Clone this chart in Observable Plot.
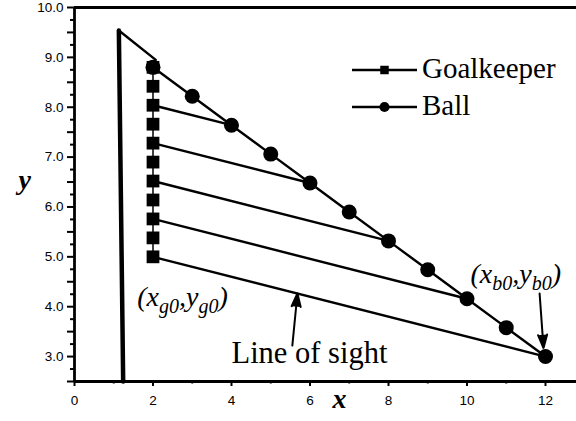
<!DOCTYPE html>
<html>
<head>
<meta charset="utf-8">
<script src="https://cdn.jsdelivr.net/npm/d3@7"></script>
<script src="https://cdn.jsdelivr.net/npm/@observablehq/plot@0.6"></script>
<style>
  body { margin: 0; background: #fff; }
  #chart { width: 576px; height: 421px; }
</style>
</head>
<body>
<div id="chart"></div>
<script>
// Goalkeeper positions along the goal line (x = 2)
const keeperX = [2, 2, 2, 2, 2, 2, 2, 2, 2, 2, 2];
const keeperY = [5.0, 5.38, 5.76, 6.14, 6.52, 6.9, 7.28, 7.66, 8.04, 8.42, 8.8];
// Ball positions along its path
const ballX = [2, 3, 4, 5, 6, 7, 8, 9, 10, 11, 12];
const ballY = [8.8, 8.22, 7.64, 7.06, 6.48, 5.9, 5.32, 4.74, 4.16, 3.58, 3.0];
// Lines of sight: keeper index paired with ball index
const sightKeeper = [10, 8, 6, 4, 2, 0];
const sightBall = [0, 2, 4, 6, 8, 10];
// Goal post outline
const postX = [1.24, 1.13, 2.07];
const postY = [2.5, 9.54, 8.95];
// Axis ticks
const yTickLabels = [3, 4, 5, 6, 7, 8, 9, 10];
const yHalfTicks = [2.5, 3, 3.5, 4, 4.5, 5, 5.5, 6, 6.5, 7, 7.5, 8, 8.5, 9, 9.5, 10];
const yQuarterTicks = [2.75, 3.25, 3.75, 4.25, 4.75, 5.25, 5.75, 6.25, 6.75, 7.25, 7.75, 8.25, 8.75, 9.25, 9.75];
const xTickLabels = [0, 2, 4, 6, 8, 10, 12];
const xMinorTicks = [1, 3, 5, 7, 9, 11];
// Annotations
const pointText = ["(x_g0,y_g0)", "(x_b0,y_b0)"];
const pointX = [1.6, 10.09];
const pointY = [4.02, 4.47];
const sightText = ["Line of sight"];
const sightX = [4.0];
const sightY = [2.88];
const arrowX1 = [5.55, 11.85];
const arrowY1 = [3.22, 4.265];
const arrowX2 = [5.68, 11.95];
const arrowY2 = [4.265, 3.17];
const legendLabels = ["Goalkeeper", "Ball"];

const keepers = keeperY.map((y, i) => ({x: keeperX[i], y}));
const balls = ballY.map((y, i) => ({x: ballX[i], y}));
const sights = sightKeeper.map((k, i) => ({
  x1: keeperX[k], y1: keeperY[k], x2: ballX[sightBall[i]], y2: ballY[sightBall[i]]
}));
const post = postX.map((x, i) => ({x, y: postY[i]}));
const pointNotes = pointText.map((text, i) => ({text, x: pointX[i], y: pointY[i]}));
const sightNotes = sightText.map((text, i) => ({text, x: sightX[i], y: sightY[i]}));
const arrows = arrowX1.map((x1, i) => ({x1, y1: arrowY1[i], x2: arrowX2[i], y2: arrowY2[i]}));

const serif = "'Liberation Serif', 'Times New Roman', serif";
const sans = "'Liberation Sans', Arial, sans-serif";

const chart = Plot.plot({
  width: 576,
  height: 421,
  marginLeft: 74,
  marginRight: 0,
  marginTop: 7,
  marginBottom: 40,
  style: {fontFamily: sans, fontSize: "13.5px", color: "#000", background: "#fff"},
  x: {domain: [0, 12.79]},
  y: {domain: [2.5, 10]},
  marks: [
    // axes
    Plot.axisY(yQuarterTicks, {tickSize: 4, strokeWidth: 2, tickFormat: () => "", label: null}),
    Plot.axisY(yHalfTicks, {tickSize: 7, tickPadding: 4, strokeWidth: 2,
      tickFormat: d => Number.isInteger(d) ? d.toFixed(1) : "", label: null}),
    Plot.axisX(xMinorTicks, {tickSize: 2.5, strokeWidth: 2, tickFormat: () => "", label: null}),
    Plot.axisX(xTickLabels, {tickSize: 5, tickPadding: 9, strokeWidth: 2, label: null}),
    Plot.ruleX([0], {strokeWidth: 2.8}),
    Plot.ruleY([2.5, 10], {strokeWidth: 2.8}),
    // goal post
    Plot.line(post, {x: "x", y: "y", strokeWidth: 2.4}),
    Plot.line(post.slice(0, 2), {x: "x", y: "y", strokeWidth: 4.5}),
    // lines of sight
    Plot.link(sights, {x1: "x1", y1: "y1", x2: "x2", y2: "y2", strokeWidth: 2.4}),
    // ball path
    Plot.line(balls, {x: "x", y: "y", strokeWidth: 2.4}),
    Plot.dot(balls, {x: "x", y: "y", r: 7.5, fill: "#000", symbol: "circle"}),
    // goalkeeper
    Plot.line(keepers, {x: "x", y: "y", strokeWidth: 1.5}),
    Plot.dot(keepers, {x: "x", y: "y", r: 7.2, fill: "#000", symbol: "square"}),
    // annotations
    Plot.arrow(arrows, {x1: "x1", y1: "y1", x2: "x2", y2: "y2", strokeWidth: 2,
      headLength: 10.5, headAngle: 38, stroke: "#000", fill: "#000"}),
    Plot.text(pointNotes, {x: "x", y: "y", text: "text", textAnchor: "start", lineAnchor: "bottom",
      fontFamily: serif, fontSize: 28, fontStyle: "italic", fill: "#000"}),
    Plot.text(sightNotes, {x: "x", y: "y", text: "text", textAnchor: "start", lineAnchor: "bottom",
      fontFamily: serif, fontSize: 30.5, fill: "#000"}),
    // axis titles
    Plot.text(["y"], {frameAnchor: "left", dx: -56, dy: -14, fontFamily: serif, fontSize: 28,
      fontStyle: "italic", fontWeight: "bold", fill: "#000"}),
    Plot.text(["x"], {frameAnchor: "bottom", dx: 14, dy: 26, fontFamily: serif, fontSize: 28,
      fontStyle: "italic", fontWeight: "bold", fill: "#000"})
  ]
});

document.getElementById("chart").appendChild(chart);
const svg = d3.select(chart);

// Subscripts: "_abc" becomes lowered, smaller text
svg.selectAll("text").each(function () {
  const t = this.textContent;
  if (!t.includes("_")) return;
  const sel = d3.select(this);
  sel.text(null);
  let lowered = false;
  t.split(/(_\w+)/).forEach(part => {
    if (!part) return;
    if (part.startsWith("_")) {
      sel.append("tspan").attr("font-size", 20).attr("dy", lowered ? 0 : 7).text(part.slice(1));
      lowered = true;
    } else {
      sel.append("tspan").attr("dy", lowered ? -7 : 0).text(part);
      lowered = false;
    }
  });
});

// Legend
const legend = svg.append("g").attr("font-family", serif).attr("font-size", 29)
  .attr("text-anchor", "start");
const rows = [
  {label: legendLabels[0], symbol: d3.symbolSquare, size: 72, y: 70},
  {label: legendLabels[1], symbol: d3.symbolCircle, size: 80, y: 107}
];
rows.forEach(r => {
  const g = legend.append("g").attr("transform", `translate(0,${r.y})`);
  g.append("line").attr("x1", 352).attr("x2", 417).attr("stroke", "#000").attr("stroke-width", 2.4);
  g.append("path").attr("transform", "translate(384.5,0)")
    .attr("d", d3.symbol(r.symbol, r.size)()).attr("fill", "#000");
  g.append("text").attr("x", 422).attr("y", 7.5).attr("fill", "#000").text(r.label);
});
</script>
</body>
</html>
